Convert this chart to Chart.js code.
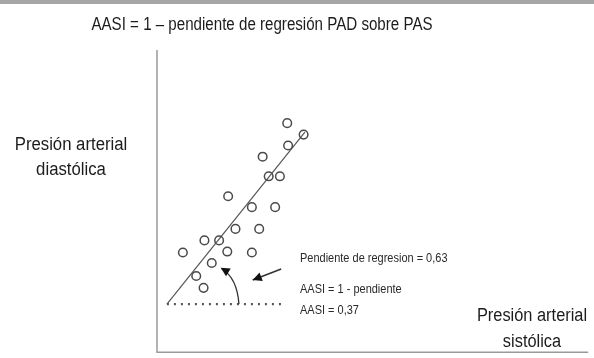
<!DOCTYPE html>
<html>
<head>
<meta charset="utf-8">
<script src="https://cdn.jsdelivr.net/npm/chart.js@4.4.1/dist/chart.umd.min.js"></script>
<style>
  html, body { margin: 0; padding: 0; background: #fff; }
  #wrap { width: 594px; height: 358px; }
</style>
</head>
<body>
<div id="wrap"><canvas id="myChart"></canvas></div>
<script>
// PAS (x) y PAD (y) en unidades relativas del dibujo
const pasValues = [30.2, 34.0, 30.4, 24.5, 25.9, 28.5, 16.5, 22.0, 27.4, 18.2, 23.7, 11.0, 14.4, 6.0, 16.3, 22.0, 12.7, 9.1, 10.8];
const padValues = [75.8, 72.0, 68.4, 64.7, 58.2, 58.2, 51.6, 48.0, 48.0, 40.8, 40.8, 37.0, 37.0, 33.0, 33.3, 33.0, 29.5, 25.2, 21.3];

// recta de regresion y linea horizontal de referencia
const regX = [2.3, 34.3];
const regY = [15.9, 72.8];
const baseX = [2.3, 29.7];
const baseY = [15.9, 15.9];

// arco del angulo y flecha hacia el texto
const arcPts = [[19.0, 15.9], [18.6, 24.5], [15.0, 27.6]];
const arrowPts = [[28.8, 27.5], [22.2, 23.9]];

const titleText = 'AASI = 1 – pendiente de regresión PAD sobre PAS';
const yLabel = ['Presión arterial', 'diastólica'];
const xLabel = ['Presión arterial', 'sistólica'];
const notes = ['Pendiente de regresion = 0,63', 'AASI = 1 - pendiente', 'AASI = 0,37'];

const FONT = '"Liberation Sans", Arial, sans-serif';

function arrowHead(ctx, x, y, ang, len, w) {
    ctx.beginPath();
    ctx.moveTo(x, y);
    ctx.lineTo(x - len * Math.cos(ang) + w * Math.sin(ang), y - len * Math.sin(ang) - w * Math.cos(ang));
    ctx.lineTo(x - len * Math.cos(ang) - w * Math.sin(ang), y - len * Math.sin(ang) + w * Math.cos(ang));
    ctx.closePath();
    ctx.fill();
}

// texto estrechado para imitar una fuente condensada
function narrowText(ctx, text, x, y, size, squeeze, align) {
    ctx.save();
    ctx.font = size + 'px ' + FONT;
    ctx.textBaseline = 'middle';
    ctx.textAlign = 'left';
    const w = ctx.measureText(text).width * squeeze;
    let left = x;
    if (align === 'center') left = x - w / 2;
    ctx.translate(left, y);
    ctx.scale(squeeze, 1);
    ctx.fillText(text, 0, 0);
    ctx.restore();
}

const drawExtras = {
    id: 'drawExtras',
    beforeDraw(chart) {
        const ctx = chart.ctx;
        ctx.save();
        ctx.fillStyle = '#a6a6a6';
        ctx.fillRect(0, 0, chart.width, 4);
        ctx.restore();
    },
    afterDatasetsDraw(chart) {
        const ctx = chart.ctx;
        const xs = chart.scales.x, ys = chart.scales.y;
        const area = chart.chartArea;
        const px = v => xs.getPixelForValue(v);
        const py = v => ys.getPixelForValue(v);
        ctx.save();

        // eje vertical y horizontal
        ctx.strokeStyle = '#9a9a9a';
        ctx.lineWidth = 1.5;
        ctx.beginPath();
        ctx.moveTo(area.left, area.top);
        ctx.lineTo(area.left, area.bottom);
        ctx.lineTo(area.right, area.bottom);
        ctx.stroke();

        // arco
        ctx.strokeStyle = '#333';
        ctx.fillStyle = '#111';
        ctx.lineWidth = 1.3;
        ctx.beginPath();
        ctx.moveTo(px(arcPts[0][0]), py(arcPts[0][1]));
        ctx.quadraticCurveTo(px(arcPts[1][0]), py(arcPts[1][1]), px(arcPts[2][0]), py(arcPts[2][1]));
        ctx.stroke();
        let ex = px(arcPts[2][0]), ey = py(arcPts[2][1]);
        let ang = Math.atan2(ey - py(arcPts[1][1]), ex - px(arcPts[1][0]));
        arrowHead(ctx, ex - 1, ey - 1, ang, 9, 4.5);

        // flecha
        ctx.lineWidth = 1.6;
        ctx.beginPath();
        ctx.moveTo(px(arrowPts[0][0]), py(arrowPts[0][1]));
        ctx.lineTo(px(arrowPts[1][0]), py(arrowPts[1][1]));
        ctx.stroke();
        ex = px(arrowPts[1][0]); ey = py(arrowPts[1][1]);
        ang = Math.atan2(ey - py(arrowPts[0][1]), ex - px(arrowPts[0][0]));
        arrowHead(ctx, ex, ey, ang, 9, 4.5);

        // textos
        ctx.fillStyle = '#1c1c1c';
        narrowText(ctx, titleText, 262, 25, 18, 0.84, 'center');
        narrowText(ctx, yLabel[0], 71, 145, 18, 0.93, 'center');
        narrowText(ctx, yLabel[1], 71, 170, 18, 0.93, 'center');
        narrowText(ctx, xLabel[0], 532, 316, 18, 0.91, 'center');
        narrowText(ctx, xLabel[1], 532, 342, 18, 0.91, 'center');

        ctx.fillStyle = '#2a2a2a';
        narrowText(ctx, notes[0], 300, 258, 13, 0.845, 'left');
        narrowText(ctx, notes[1], 300, 289, 13, 0.845, 'left');
        narrowText(ctx, notes[2], 300, 310, 13, 0.845, 'left');
        ctx.restore();
    }
};

const ctx = document.getElementById('myChart').getContext('2d');
const myChart = new Chart(ctx, {
    type: 'scatter',
    data: {
        datasets: [
            {
                label: 'PAD vs PAS',
                data: pasValues.map((v, i) => ({ x: v, y: padValues[i] })),
                pointRadius: 4.3,
                pointBorderWidth: 1.5,
                pointBorderColor: '#4a4a4a',
                pointBackgroundColor: 'rgba(255,255,255,0)',
                showLine: false
            },
            {
                label: 'Regresion',
                data: regX.map((v, i) => ({ x: v, y: regY[i] })),
                showLine: true,
                borderColor: '#555',
                borderWidth: 1.2,
                pointRadius: 0
            },
            {
                label: 'Base',
                data: baseX.map((v, i) => ({ x: v, y: baseY[i] })),
                showLine: true,
                borderColor: '#555',
                borderWidth: 2.2,
                borderDash: [2, 5],
                pointRadius: 0
            }
        ]
    },
    options: {
        responsive: true,
        maintainAspectRatio: false,
        animation: false,
        layout: { padding: { left: 157, top: 50, right: 0, bottom: 2 } },
        scales: {
            x: { type: 'linear', min: 0, max: 100, display: false },
            y: { type: 'linear', min: 0, max: 100, display: false }
        },
        plugins: {
            legend: { display: false },
            tooltip: { enabled: false },
            title: { display: false }
        }
    },
    plugins: [drawExtras]
});
</script>
</body>
</html>
